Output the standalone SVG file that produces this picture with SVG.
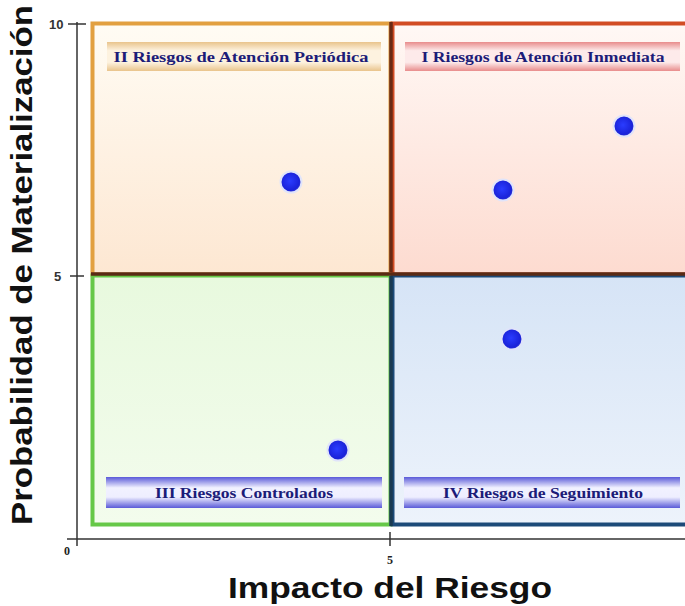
<svg xmlns="http://www.w3.org/2000/svg" width="685" height="606" viewBox="0 0 685 606">
<defs>
<linearGradient id="gII" x1="0" y1="0" x2="0" y2="1"><stop offset="0" stop-color="#fffcf4"/><stop offset="1" stop-color="#fde7d2"/></linearGradient>
<linearGradient id="gI" x1="0" y1="0" x2="0" y2="1"><stop offset="0" stop-color="#fff8f5"/><stop offset="1" stop-color="#fddbd0"/></linearGradient>
<linearGradient id="gIII" x1="0" y1="0" x2="0" y2="1"><stop offset="0" stop-color="#e8f9de"/><stop offset="1" stop-color="#f3fced"/></linearGradient>
<linearGradient id="gIV" x1="0" y1="0" x2="0" y2="1"><stop offset="0" stop-color="#d6e4f6"/><stop offset="1" stop-color="#edf3fb"/></linearGradient>
<linearGradient id="bII" x1="0" y1="0" x2="0" y2="1"><stop offset="0" stop-color="#e9c48c"/><stop offset="0.3" stop-color="#fdf2df"/><stop offset="0.7" stop-color="#fdf2df"/><stop offset="1" stop-color="#e9c48c"/></linearGradient>
<linearGradient id="bI" x1="0" y1="0" x2="0" y2="1"><stop offset="0" stop-color="#e88c8c"/><stop offset="0.3" stop-color="#fdeaea"/><stop offset="0.7" stop-color="#fdeaea"/><stop offset="1" stop-color="#e88c8c"/></linearGradient>
<linearGradient id="bB" x1="0" y1="0" x2="0" y2="1"><stop offset="0" stop-color="#5a5ad8"/><stop offset="0.35" stop-color="#f2f2ff"/><stop offset="0.65" stop-color="#eeeeff"/><stop offset="1" stop-color="#5a5ad8"/></linearGradient>
<radialGradient id="dot" cx="0.45" cy="0.45" r="0.6"><stop offset="0" stop-color="#2a3cff"/><stop offset="0.75" stop-color="#1a22d8"/><stop offset="1" stop-color="#4a50d8"/></radialGradient>
</defs>
<style>
.ban{font-family:"Liberation Serif","Times New Roman",serif;font-weight:bold;font-size:15.5px;fill:#1c1c78;text-anchor:middle}
.ttl{font-family:"Liberation Sans",Arial,sans-serif;font-weight:bold;font-size:30px;fill:#111}
.tk{font-family:"Liberation Sans",Arial,sans-serif;font-weight:bold;font-size:13px;fill:#333}
.tks{font-family:"Liberation Serif","Times New Roman",serif;font-weight:bold;font-size:12px;fill:#222;text-anchor:middle}
.ax{stroke:#333;stroke-width:1.5;fill:none}
.pt{fill:url(#dot);stroke:#e0e4fa;stroke-width:2}
</style>
<rect width="685" height="606" fill="#ffffff"/>
<g id="quadrant-II">
<rect x="92.5" y="23.5" width="298" height="251" fill="url(#gII)" stroke="#e2a040" stroke-width="4"/>
<rect x="107" y="42" width="274" height="29" fill="url(#bII)"/>
<text class="ban" x="241" y="62" textLength="255" lengthAdjust="spacingAndGlyphs">II  Riesgos de Atención Periódica</text>
</g>
<g id="quadrant-I">
<rect x="392.5" y="23.5" width="296" height="251" fill="url(#gI)" stroke="#d24c24" stroke-width="4"/>
<rect x="405" y="42" width="275" height="29" fill="url(#bI)"/>
<text class="ban" x="543" y="62" textLength="243" lengthAdjust="spacingAndGlyphs">I Riesgos de Atención Inmediata</text>
</g>
<g id="quadrant-III">
<rect x="92.5" y="275.5" width="298" height="249" fill="url(#gIII)" stroke="#66c848" stroke-width="4"/>
<rect x="106" y="477" width="276" height="31" fill="url(#bB)"/>
<text class="ban" x="244" y="498" textLength="178" lengthAdjust="spacingAndGlyphs">III  Riesgos Controlados</text>
</g>
<g id="quadrant-IV">
<rect x="392.5" y="275.5" width="296" height="249" fill="url(#gIV)" stroke="#1c4a78" stroke-width="4"/>
<rect x="404" y="477" width="276" height="31" fill="url(#bB)"/>
<text class="ban" x="543" y="498" textLength="200" lengthAdjust="spacingAndGlyphs">IV Riesgos de Seguimiento</text>
</g>
<g id="dividers">
<line x1="91" y1="274" x2="685" y2="274" stroke="#5a2a14" stroke-width="3.5"/>
<line x1="391" y1="22" x2="391" y2="272" stroke="#6a2a14" stroke-width="3.5"/>
<line x1="391" y1="276" x2="391" y2="526" stroke="#1a3a52" stroke-width="3.5"/>
</g>
<g id="points">
<circle class="pt" cx="291" cy="182" r="10.5"/>
<circle class="pt" cx="503" cy="190" r="10.5"/>
<circle class="pt" cx="624" cy="126" r="10.5"/>
<circle class="pt" cx="512" cy="339" r="10.5"/>
<circle class="pt" cx="338" cy="450" r="10.5"/>
</g>
<g id="axes">
<line class="ax" x1="77" y1="22" x2="77" y2="546"/>
<line class="ax" x1="67" y1="539" x2="685" y2="539"/>
<line class="ax" x1="68" y1="24" x2="86" y2="24"/>
<line class="ax" x1="70" y1="276" x2="84" y2="276"/>
<line class="ax" x1="390" y1="532" x2="390" y2="546"/>
<text class="tk" x="49" y="29">10</text>
<text class="tk" x="54" y="281">5</text>
<text class="tks" x="67" y="555">0</text>
<text class="tks" x="390" y="564">5</text>
</g>
<g id="titles">
<text class="ttl" x="390" y="598" text-anchor="middle" textLength="324" lengthAdjust="spacingAndGlyphs">Impacto del Riesgo</text>
<text class="ttl" transform="translate(32,265) rotate(-90)" x="0" y="0" text-anchor="middle" textLength="520" lengthAdjust="spacingAndGlyphs">Probabilidad de Materialización</text>
</g>
</svg>
